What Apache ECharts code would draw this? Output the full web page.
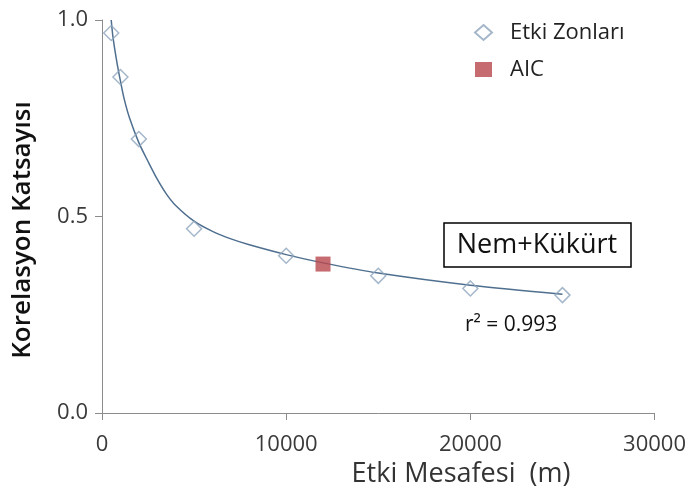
<!DOCTYPE html>
<html><head><meta charset="utf-8">
<script src="https://cdn.jsdelivr.net/npm/echarts@6/dist/echarts.min.js"></script>
<style>html,body{margin:0;padding:0;background:#fff}#c{width:689px;height:500px}</style>
</head><body><div id="c"></div>
<script>
// Data
const zoneX = [500, 1000, 2000, 5000, 10000, 15000, 20000, 25000];
const zoneY = [0.967, 0.855, 0.697, 0.469, 0.400, 0.349, 0.317, 0.300];
const aicX = [12000];
const aicY = [0.379];
// trendline (power fit)
const trendX = [500, 600, 800, 1000, 1200, 1500, 2000, 2500, 3000, 3500, 4000, 5000, 6000, 7000, 8000, 10000, 12000, 15000, 20000, 25000];
const trendY = [1.0, 0.955, 0.895, 0.845, 0.80, 0.75, 0.688, 0.64, 0.595, 0.557, 0.528, 0.488, 0.462, 0.443, 0.428, 0.403, 0.382, 0.356, 0.325, 0.302];
const xTicks = [0, 10000, 20000, 30000];
const yTicks = [0.0, 0.5, 1.0];

const FONT = '"Open Sans"';
const chart = echarts.init(document.getElementById('c'), null, {renderer: 'canvas'});
const zip = (a, b) => a.map((v, i) => [v, b[i]]);

chart.setOption({
  backgroundColor: '#fff',
  animation: false,
  textStyle: {fontFamily: FONT},
  grid: {left: 102, right: 34, top: 20, bottom: 87},
  legend: {
    orient: 'vertical', left: 469, top: 15, itemGap: 12,
    itemWidth: 17, itemHeight: 15,
    data: ['Etki Zonları', 'AIC'],
    textStyle: {fontFamily: FONT, fontSize: 22, lineHeight: 25, color: '#222', padding: [0, 0, 0, 13]}
  },
  xAxis: {
    type: 'value', min: xTicks[0], max: xTicks[xTicks.length - 1], interval: 10000,
    axisLine: {onZero: false, lineStyle: {color: '#8c8c8c', width: 1}},
    axisTick: {show: true, inside: false, length: 7, lineStyle: {color: '#8c8c8c'}},
    splitLine: {show: false},
    axisLabel: {fontFamily: FONT, fontSize: 22, color: '#3a3a3a', margin: 21,
      formatter: v => String(v)}
  },
  yAxis: {
    type: 'value', min: yTicks[0], max: yTicks[yTicks.length - 1], interval: 0.5,
    axisLine: {show: true, lineStyle: {color: '#8c8c8c', width: 1}},
    axisTick: {show: true, inside: false, length: 7, lineStyle: {color: '#8c8c8c'}},
    splitLine: {show: false},
    axisLabel: {fontFamily: FONT, fontSize: 22, color: '#3a3a3a', margin: 14,
      formatter: v => v.toFixed(1)}
  },
  series: [
    {
      name: 'trend', type: 'line', data: zip(trendX, trendY), smooth: 0.3,
      showSymbol: false, symbol: 'none', silent: true, z: 2,
      lineStyle: {color: '#4f6f8f', width: 1.5}
    },
    {
      name: 'Etki Zonları', type: 'scatter', data: zip(zoneX, zoneY),
      symbol: 'diamond', symbolSize: 15, z: 3,
      itemStyle: {color: 'rgba(255,255,255,0)', borderColor: '#8ea5bd', borderWidth: 1.5}
    },
    {
      name: 'AIC', type: 'scatter', data: zip(aicX, aicY),
      symbol: 'rect', symbolSize: 15, z: 4,
      itemStyle: {color: '#b8474e'}
    }
  ],
  graphic: [
    {type: 'rect', shape: {x: 444, y: 223, width: 187, height: 44},
      style: {fill: '#fff', stroke: '#000', lineWidth: 1.5}},
    {type: 'text', x: 537, y: 245,
      style: {text: 'Nem+Kükürt', font: '27px ' + FONT, fill: '#111', textAlign: 'center', textVerticalAlign: 'middle'}},
    {type: 'text', x: 465, y: 325,
      style: {text: 'r² = 0.993', font: '21px ' + FONT, fill: '#111', textAlign: 'left', textVerticalAlign: 'middle'}},
    {type: 'text', x: 461, y: 474,
      style: {text: 'Etki Mesafesi  (m)', font: '27px ' + FONT, fill: '#333', textAlign: 'center', textVerticalAlign: 'middle'}},
    {type: 'text', x: 23, y: 230, rotation: Math.PI / 2,
      style: {text: 'Korelasyon Katsayısı', font: '600 26px ' + FONT, fill: '#111', textAlign: 'center', textVerticalAlign: 'middle'}}
  ]
});
</script></body></html>
